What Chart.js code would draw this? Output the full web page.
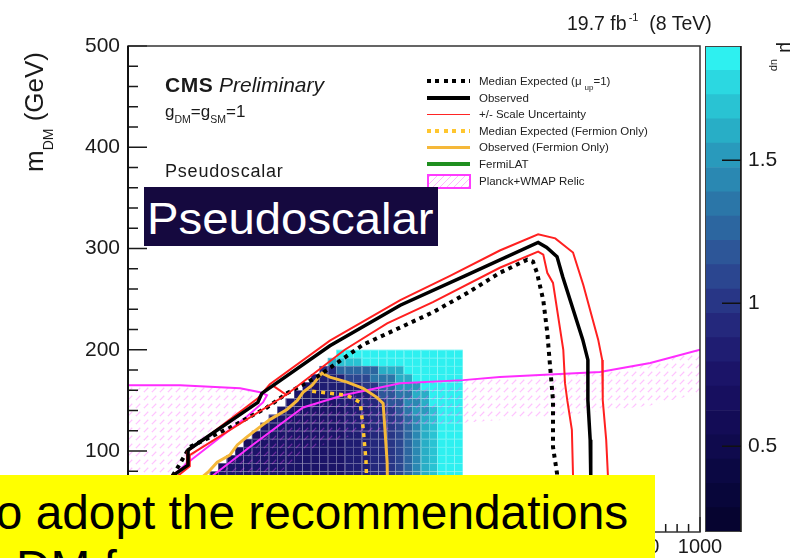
<!DOCTYPE html>
<html>
<head>
<meta charset="utf-8">
<script src="https://cdn.jsdelivr.net/npm/chart.js"></script>
<style>
html, body { margin: 0; padding: 0; background: #fff; overflow: hidden; }
#wrap { position: relative; width: 792px; height: 558px; overflow: hidden;
        font-family: "Liberation Sans", Arial, Helvetica, sans-serif; color: #1a1a1a; }
canvas { position: absolute; top: 0; }
#main { left: 0; }
#zbar { left: 700px; }
.t { position: absolute; white-space: nowrap; line-height: 1; }
.smp { position: absolute; left: 427px; width: 43px; }
.lt { position: absolute; left: 479px; font-size: 11.5px; line-height: 1; white-space: nowrap; color: #222; }
</style>
</head>
<body>
<div id="wrap">
  <canvas id="main" width="792" height="558"></canvas>
  <canvas id="zbar" width="92" height="558"></canvas>

  <div class="t" style="left:567px;top:14px;font-size:19.5px;">19.7 fb<span style="font-size:11px;position:relative;top:-9px;margin-left:2px;">-1</span>&nbsp;&nbsp;(8 TeV)</div>

  <div class="t" style="left:21px;top:172px;font-size:26px;transform:rotate(-90deg);transform-origin:0 0;">m<span style="font-size:14px;position:relative;top:10px;">DM</span> (GeV)</div>

  <div class="t" style="left:796px;top:42px;font-size:19px;transform:rotate(90deg);transform-origin:0 0;">μ<span style="font-size:11px;position:relative;top:9px;margin-left:6px;">up</span></div>

  <div class="t" style="left:165px;top:74px;font-size:21px;"><b style="letter-spacing:0.5px;">CMS</b> <i>Preliminary</i></div>
  <div class="t" style="left:165px;top:103px;font-size:17px;">g<span style="font-size:10.5px;position:relative;top:6px;">DM</span>=g<span style="font-size:10.5px;position:relative;top:6px;">SM</span>=1</div>
  <div class="t" style="left:165px;top:162px;font-size:18px;letter-spacing:0.8px;">Pseudoscalar</div>

  <!-- legend -->
  <div class="smp" style="top:79px;height:4px;background:repeating-linear-gradient(90deg,#000 0 4px,transparent 4px 8.5px);"></div>
  <div class="lt" style="top:76px;">Median Expected (μ<span style="font-size:8px;position:relative;top:5px;margin-left:3px;">up</span>=1)</div>
  <div class="smp" style="top:96px;height:3.5px;background:#000;"></div>
  <div class="lt" style="top:93px;">Observed</div>
  <div class="smp" style="top:113.5px;height:1.6px;background:#ff2424;"></div>
  <div class="lt" style="top:109px;">+/- Scale Uncertainty</div>
  <div class="smp" style="top:129px;height:4px;background:repeating-linear-gradient(90deg,#ffc62e 0 4px,transparent 4px 8.5px);"></div>
  <div class="lt" style="top:126px;">Median Expected (Fermion Only)</div>
  <div class="smp" style="top:145.5px;height:3.5px;background:#f5b83a;"></div>
  <div class="lt" style="top:142px;">Observed (Fermion Only)</div>
  <div class="smp" style="top:162px;height:4px;background:#1f8f1f;"></div>
  <div class="lt" style="top:159px;">FermiLAT</div>
  <div class="smp" style="top:174px;height:11px;width:40px;border:2px solid #ff3cff;background:repeating-linear-gradient(135deg,rgba(255,110,255,0.5) 0 1px,transparent 1px 5px);"></div>
  <div class="lt" style="top:176px;">Planck+WMAP Relic</div>

  <!-- slide overlays -->
  <div style="position:absolute;left:144px;top:187px;width:294px;height:59px;background:#15093f;"></div>
  <div class="t" style="left:147px;top:197px;font-size:44px;color:#fff;transform:scaleX(1.075);transform-origin:0 0;">Pseudoscalar</div>

  <div style="position:absolute;left:0;top:475px;width:655px;height:83px;background:#ffff00;"></div>
  <div class="t" style="left:-17.5px;top:489px;font-size:47.8px;color:#000;">to adopt the recommendations</div>
  <div class="t" style="left:16px;top:544px;font-size:47.8px;color:#000;">DM forum.</div>
</div>

<script>
// m_MED (GeV), m_DM (GeV) points
const observed = [[3,37],[38,55],[79,76],[105,86],[105,101],[227,148],[234,157],[353,204],[476,244],[593,274],[717,306],[732,301],[750,292],[760,272],[795,210],[804,190],[804,150],[808,111],[809,76],[811,20]];
const scaleUp = [[7,37],[42,55],[75,75],[103,85],[103,99],[227,152],[248,166],[353,209],[476,249],[563,273],[650,298],[717,314],[747,310],[778,296],[796,264],[822,210],[829,190],[830,150],[836,111],[839,76],[841,20]];
const scaleDown = [[12,37],[47,55],[82,73],[108,85],[108,96],[278,156],[379,200],[453,226],[533,247],[650,281],[717,297],[726,294],[733,276],[743,266],[761,200],[764,167],[768,150],[776,121],[778,76],[780,20]];
const scaleNotch = [[252,165],[278,155]];
const expected = [[21,37],[56,57],[82,79],[108,104],[178,123],[243,143],[278,157],[330,173],[411,205],[476,222],[533,237],[593,256],[650,276],[698,289],[708,287],[715,276],[726,249],[733,217],[738,183],[743,150],[743,104],[750,78],[752,20]];
const obsFermion = [[39,27],[82,52],[140,79],[156,89],[178,96],[191,106],[208,114],[236,126],[248,131],[278,141],[296,150],[306,158],[322,165],[339,177],[353,173],[383,168],[411,162],[435,153],[446,147],[449,123],[453,89],[455,20]];
const expFermion = [[322,159],[353,157],[383,155],[406,148],[411,123],[416,91],[420,20]];
const relicLeft = [[0,165],[91,165],[196,162],[231,158],[243,155],[236,148],[208,134],[103,88],[79,76],[39,52],[0,30]];
const relicRight = [[14,20],[149,76],[213,104],[306,143],[376,155],[476,167],[586,170],[650,173],[825,178],[913,187],[1000,200]];
const relicRightEdge = [[14,20],[126,20],[231,62],[306,99],[376,113],[476,123],[586,128],[738,134],[825,139],[913,145],[1000,157]];

// mu_up map: bins of 14.75 GeV (m_MED) x 8 GeV (m_DM), rows from m_DM = 200 down
const heatX0 = 10, heatDX = 14.75, heatYTop = 200, heatDY = 8;
const heatRows = [
  [24, "jjjjjjjjjjjjjjj"],
  [23, "ghhhjjjjjjjjjjjj"],
  [22, "88cccccgggjjjjjjj"],
  [21, "7777aaadddggjjjjjj"],
  [20, "667777799ccfffjjjjj"],
  [19, "6666777778bbddggjjjj"],
  [18, "666666777889bbeegjjjj"],
  [17, "66666666777889bdffhjjj"],
  [16, "666666666777889aceghjjj"],
  [15, "6666666666777889aceghjjj"],
  [14, "56666666666777889aceghjjj"],
  [13, "566666666666777889aceghjjj"],
  [12, "5666666666666777889aceghjjj"],
  [11, "56666666666666777889aceghjjj"],
  [10, "566666666666666777889aceghjjj"],
  [9,  "5666666666666666777889aceghjjj"]
];
const heatCodes = "0123456789abcdefghij";

// colour palette (bottom to top of the z bar)
const zEdges = [0.2,0.285,0.37,0.455,0.54,0.625,0.71,0.795,0.88,0.965,1.05,1.135,1.22,1.305,1.39,1.475,1.56,1.645,1.73,1.815,1.9];
const zColors = ['#060430','#08063a','#0b0843','#0f0a4d','#130c56','#170f5f','#1b1468','#1f1d72','#24287c','#283686',
                 '#2b4690','#2d5698','#2c66a0','#2b76a8','#2a88b2','#299abc','#28aec6','#29c3d3','#2bd8e1','#2ef0f0'];
const zTicks = [0.5, 1, 1.5];

Chart.defaults.font.family = '"Liberation Sans", Arial, Helvetica, sans-serif';
Chart.defaults.color = '#1a1a1a';

const xy = a => a.map(p => ({x: p[0], y: p[1]}));

// dashed pink hatch for the relic band
const hatchCanvas = document.createElement('canvas');
hatchCanvas.width = 8; hatchCanvas.height = 8;
const hc = hatchCanvas.getContext('2d');
hc.strokeStyle = 'rgba(255,80,255,0.34)';
hc.lineWidth = 1.2;
hc.setLineDash([6, 5.3]);
hc.beginPath();
hc.moveTo(0, 8); hc.lineTo(8, 0);
hc.stroke();
hc.setLineDash([]);
hc.beginPath();
hc.moveTo(-1, 1); hc.lineTo(1, -1);
hc.moveTo(7, 9); hc.lineTo(9, 7);
hc.stroke();
const hatch = hc.createPattern(hatchCanvas, 'repeat');

const heatmap = {
  id: 'heatmap',
  beforeDatasetsDraw(chart) {
    const {ctx, chartArea: a, scales: {x, y}} = chart;
    ctx.save();
    ctx.beginPath(); ctx.rect(a.left, a.top, a.width, a.height); ctx.clip();
    heatRows.forEach(([start, codes], j) => {
      const y0 = y.getPixelForValue(heatYTop - j * heatDY);
      const y1 = y.getPixelForValue(heatYTop - (j + 1) * heatDY);
      for (let k = 0; k < codes.length; k++) {
        const i = start + k;
        const x0 = x.getPixelForValue(heatX0 + i * heatDX);
        const x1 = x.getPixelForValue(heatX0 + (i + 1) * heatDX);
        ctx.fillStyle = zColors[heatCodes.indexOf(codes[k])];
        ctx.fillRect(x0, y0, x1 - x0, y1 - y0);
        ctx.strokeStyle = 'rgba(255,255,255,0.22)';
        ctx.lineWidth = 1;
        ctx.strokeRect(Math.round(x0) + 0.5, Math.round(y0) + 0.5, x1 - x0, y1 - y0);
      }
    });
    ctx.restore();
  }
};

const frameTicks = {
  id: 'frameTicks',
  afterDraw(chart) {
    const {ctx, chartArea: a, scales: {x, y}} = chart;
    ctx.save();
    ctx.strokeStyle = '#1a1a1a';
    ctx.lineWidth = 1.5;
    ctx.beginPath();
    y.ticks.forEach(t => {
      const p = y.getPixelForValue(t.value);
      const len = Math.round(t.value) % 100 === 0 ? 19 : 10;
      ctx.moveTo(a.left, p); ctx.lineTo(a.left + len, p);
    });
    x.ticks.forEach(t => {
      const p = x.getPixelForValue(t.value);
      const len = Math.round(t.value) % 100 === 0 ? 15 : 8;
      ctx.moveTo(p, a.bottom); ctx.lineTo(p, a.bottom - len);
    });
    ctx.stroke();
    ctx.strokeStyle = '#333';
    ctx.strokeRect(a.left, a.top, a.width, a.height);
    ctx.lineWidth = 2;
    ctx.strokeStyle = '#111';
    ctx.beginPath(); ctx.moveTo(a.left, a.top); ctx.lineTo(a.left, a.bottom); ctx.stroke();
    ctx.restore();
  }
};

function lineSet(data, color, width, dash, order) {
  return {data: xy(data), showLine: true, borderColor: color, borderWidth: width, borderDash: dash,
          borderCapStyle: 'butt', pointRadius: 0, fill: false, tension: 0, clip: 0, order: order};
}

new Chart(document.getElementById('main'), {
  type: 'scatter',
  data: {
    datasets: [
      lineSet(observed, '#000000', 3.5, [], 0),
      lineSet(scaleUp, '#ff2020', 2, [], 1),
      lineSet(scaleDown, '#ff2020', 2, [], 1),
      lineSet(scaleNotch, '#ff2020', 2, [], 1),
      lineSet(expected, '#000000', 4, [4, 4.5], 2),
      lineSet(obsFermion, '#f5b83a', 3, [], 3),
      lineSet(expFermion, '#ffc62e', 3.5, [4, 5], 4),
      lineSet(relicRight, '#ff2cff', 2, [], 5),
      Object.assign(lineSet(relicLeft, '#ff2cff', 2, [], 5), {fill: 'shape', backgroundColor: hatch}),
      Object.assign(lineSet(relicRight.concat(relicRightEdge.slice().reverse()), 'rgba(0,0,0,0)', 0, [], 6),
                    {fill: 'shape', backgroundColor: hatch})
    ]
  },
  options: {
    responsive: false,
    animation: false,
    layout: {padding: {left: 0, top: 46, right: 92, bottom: 0}},
    plugins: {legend: {display: false}, tooltip: {enabled: false}},
    scales: {
      x: {
        type: 'linear', min: 0, max: 1000,
        afterFit: s => { s.height = 26; },
        grid: {display: false, drawTicks: false},
        border: {display: false},
        ticks: {stepSize: 20, autoSkip: false, maxRotation: 0, padding: 3, font: {size: 20},
                callback: v => Math.round(v) % 100 === 0 ? String(Math.round(v)) : ''}
      },
      y: {
        type: 'linear', min: 20, max: 500,
        afterFit: s => { s.width = 128; },
        grid: {display: false, drawTicks: false},
        border: {display: false},
        ticks: {stepSize: 20, autoSkip: false, padding: 8, font: {size: 21},
                callback: v => Math.round(v) % 100 === 0 ? String(Math.round(v)) : ''}
      }
    }
  },
  plugins: [heatmap, frameTicks]
});

const zFrame = {
  id: 'zFrame',
  afterDraw(chart) {
    const {ctx, chartArea: a, scales: {y}} = chart;
    ctx.save();
    ctx.strokeStyle = '#444';
    ctx.lineWidth = 1;
    ctx.strokeRect(a.left + 0.5, a.top + 0.5, a.width - 1, a.height - 1);
    ctx.strokeStyle = '#111';
    ctx.lineWidth = 1.5;
    ctx.beginPath();
    zTicks.forEach(v => {
      const p = y.getPixelForValue(v);
      ctx.moveTo(a.right - 19, p); ctx.lineTo(a.right, p);
    });
    ctx.moveTo(a.right, a.top); ctx.lineTo(a.right, a.bottom);
    ctx.stroke();
    ctx.restore();
  }
};

new Chart(document.getElementById('zbar'), {
  type: 'bar',
  data: {
    labels: ['z'],
    datasets: zColors.map((c, k) => ({
      data: [[zEdges[k], zEdges[k + 1]]],
      backgroundColor: c, borderWidth: 0, borderSkipped: false,
      grouped: false, barPercentage: 1, categoryPercentage: 1
    }))
  },
  options: {
    responsive: false,
    animation: false,
    layout: {padding: {left: 5, top: 46, right: 0, bottom: 26}},
    plugins: {legend: {display: false}, tooltip: {enabled: false}},
    scales: {
      x: {display: false},
      y: {
        position: 'right', min: 0.2, max: 1.9,
        grid: {display: false, drawTicks: false},
        border: {display: false},
        afterBuildTicks: s => { s.ticks = zTicks.map(v => ({value: v})); },
        afterFit: s => { s.width = 51; },
        ticks: {padding: 7, font: {size: 21}, callback: v => String(v)}
      }
    }
  },
  plugins: [zFrame]
});
</script>
</body>
</html>
